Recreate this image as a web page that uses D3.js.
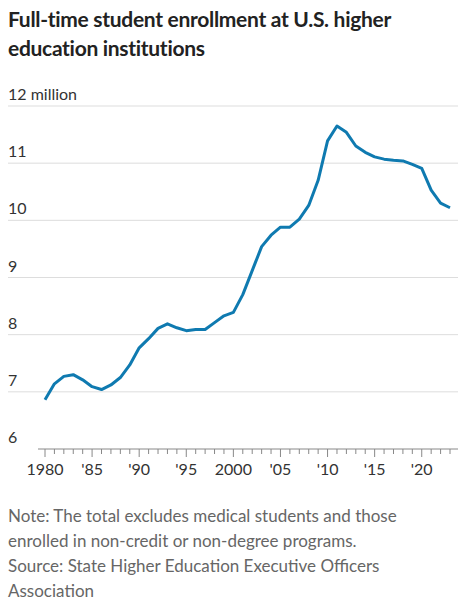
<!DOCTYPE html>
<html><head><meta charset="utf-8">
<script src="https://cdn.jsdelivr.net/npm/d3@7"></script>
<style>
body{margin:0;background:#fff;font-family:Lato,"Noto Sans",sans-serif;}
.title{position:absolute;left:8px;top:4px;width:450px;font-weight:700;font-size:21px;line-height:29px;color:#222;letter-spacing:-0.3px;}
.note{position:absolute;left:8px;top:503px;width:445px;font-size:17px;line-height:25px;color:#666;}
</style></head>
<body>
<div class="title">Full-time student enrollment at U.S. higher education institutions</div>
<div id="chart"></div>
<div class="note">Note: The total excludes medical students and those enrolled in non-credit or non-degree programs.<br>Source: State Higher Education Executive Officers Association</div>
<script>
const years = d3.range(1980, 2024);
const enrollment = [6.86,7.14,7.27,7.30,7.21,7.09,7.04,7.12,7.25,7.47,
  7.77,7.93,8.11,8.19,8.12,8.07,8.09,8.09,8.21,8.33,
  8.39,8.70,9.12,9.54,9.74,9.88,9.88,10.02,10.26,10.70,
  11.39,11.65,11.54,11.30,11.19,11.11,11.07,11.05,11.04,10.98,
  10.91,10.53,10.30,10.22];
const yTicks = [6,7,8,9,10,11,12];
const xLabels = {1980:"1980",1985:"'85",1990:"'90",1995:"'95",2000:"2000",2005:"'05",2010:"'10",2015:"'15",2020:"'20"};

const svg = d3.select("#chart").append("svg").attr("width", 467).attr("height", 500)
  .style("position","absolute").style("left",0).style("top",0);
const x = d3.scaleLinear().domain([1980, 2023]).range([45, 450]);
const y = d3.scaleLinear().domain([6, 12]).range([449, 106]);

// gridlines + labels
yTicks.forEach(t => {
  if (t > 6) svg.append("line").attr("x1", 8).attr("x2", 458).attr("y1", y(t)).attr("y2", y(t))
    .attr("stroke", "#ddd").attr("stroke-width", 1);
  svg.append("text").attr("x", 8).attr("y", y(t) - 6).attr("font-size", 16).attr("fill", "#333")
    .text(t === 12 ? "12 million" : t);
});

// x axis
svg.append("line").attr("x1", 38).attr("x2", 458).attr("y1", y(6)).attr("y2", y(6)).attr("stroke", "#888");
years.forEach(yr => {
  svg.append("line").attr("x1", x(yr)).attr("x2", x(yr)).attr("y1", y(6)).attr("y2", y(6) + (xLabels[yr] ? 8 : 5))
    .attr("stroke", "#888");
  if (xLabels[yr]) svg.append("text").attr("x", x(yr)).attr("y", y(6) + 26).attr("text-anchor", "middle")
    .attr("font-size", 16).attr("fill", "#333").text(xLabels[yr]);
});

const line = d3.line().x((d, i) => x(years[i])).y(d => y(d));
svg.append("path").datum(enrollment).attr("d", line).attr("fill", "none")
  .attr("stroke", "#0f7ab0").attr("stroke-width", 3).attr("stroke-linejoin", "round");
</script>
</body></html>
